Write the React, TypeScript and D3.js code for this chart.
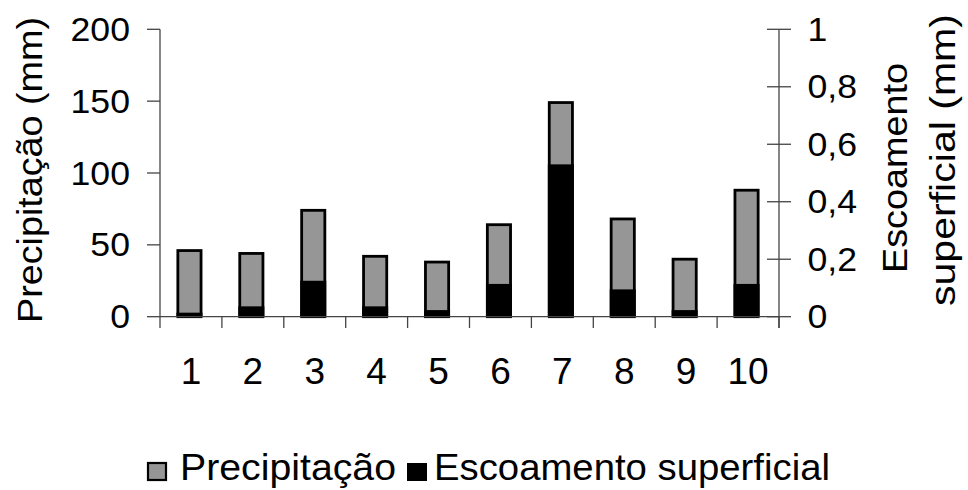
import React from "react";
import * as d3 from "d3";

const categories = ["1", "2", "3", "4", "5", "6", "7", "8", "9", "10"];
const precipitation = [47, 45, 75, 43, 39, 65, 150, 69, 41, 89];
const runoff = [0.014, 0.036, 0.125, 0.036, 0.023, 0.114, 0.53, 0.095, 0.023, 0.114];
const leftTicks = [0, 50, 100, 150, 200];
const rightTicks = [0, 0.2, 0.4, 0.6, 0.8, 1];
const seriesNames = ["Precipitação", "Escoamento superficial"];
const leftTitle = "Precipitação (mm)";
const rightTitle = ["Escoamento", "superficial (mm)"];

const W = 968;
const H = 490;
const FONT = "'Liberation Sans', Arial, Helvetica, sans-serif";
const GRAY = "#969696";
const AXIS = "#444";

function T(props: {
  x: number;
  y: number;
  size: number;
  sx?: number;
  rot?: number;
  anchor?: string;
  children: React.ReactNode;
  textLength?: number;
}) {
  const { x, y, size, sx = 1, rot = 0, anchor = "start", children, textLength } = props;
  return (
    <text
      transform={`translate(${x},${y}) rotate(${rot}) scale(${sx},1)`}
      fontSize={size}
      fontFamily={FONT}
      textAnchor={anchor}
      fill="#000"
      textLength={textLength}
      lengthAdjust={textLength ? "spacingAndGlyphs" : undefined}
    >
      {children}
    </text>
  );
}

export default function App() {
  const left = 160;
  const right = 779;
  const top = 29.3;
  const base = 316.7;

  const x = d3
    .scaleBand<string>()
    .domain(categories)
    .range([left, right])
    .paddingInner(0.58)
    .paddingOuter(0.29);
  const yL = d3.scaleLinear().domain([0, 200]).range([base, top]);
  const yR = d3.scaleLinear().domain([0, 1]).range([base, top]);
  const step = x.step();
  const bw = x.bandwidth();
  const sw = 2.8;
  const fmtR = (v: number) => String(v).replace(".", ",");

  const boundaries = d3.range(categories.length + 1).map((i) => left + i * step);

  return (
    <svg
      width={W}
      height={H}
      viewBox={`0 0 ${W} ${H}`}
      style={{ position: "absolute", left: 0, top: 0, display: "block", background: "#fff" }}
    >
      <rect x={0} y={0} width={W} height={H} fill="#fff" />

      {/* bars */}
      {categories.map((c, i) => {
        const bx = x(c)! - 1.5;
        const yt = yL(precipitation[i]);
        return (
          <rect
            key={"p" + c}
            x={bx + sw / 2}
            y={yt + sw / 2}
            width={bw - sw}
            height={base - yt - sw / 2}
            fill={GRAY}
            stroke="#000"
            strokeWidth={sw}
          />
        );
      })}
      {categories.map((c, i) => {
        const bx = x(c)! - 1.5;
        const yt = yR(runoff[i]);
        return (
          <rect key={"r" + c} x={bx} y={yt} width={bw} height={base - yt} fill="#000" />
        );
      })}

      {/* left axis */}
      <line x1={left} x2={left} y1={top} y2={base} stroke={AXIS} strokeWidth={1.3} />
      {leftTicks.map((t) => (
        <g key={"lt" + t}>
          <line x1={147} x2={left} y1={yL(t)} y2={yL(t)} stroke={AXIS} strokeWidth={1.3} />
          <T x={130} y={yL(t) + 11.5} size={33} sx={1.08} anchor="end">
            {t}
          </T>
        </g>
      ))}

      {/* x axis */}
      <line x1={left} x2={right} y1={base} y2={base} stroke={AXIS} strokeWidth={1.3} />
      {boundaries.map((bx, i) => (
        <line key={"xt" + i} x1={bx} x2={bx} y1={base} y2={328} stroke={AXIS} strokeWidth={1.3} />
      ))}
      {categories.map((c) => (
        <T key={"xl" + c} x={x(c)! + bw / 2} y={384} size={37} anchor="middle">
          {c}
        </T>
      ))}

      {/* right axis */}
      <line x1={right} x2={right} y1={top} y2={328} stroke={AXIS} strokeWidth={1.3} />
      {rightTicks.map((t) => (
        <g key={"rt" + t}>
          <line x1={767} x2={791} y1={yR(t)} y2={yR(t)} stroke={AXIS} strokeWidth={1.3} />
          <T x={807.5} y={yR(t) + 11.5} size={33} sx={1.08}>
            {fmtR(t)}
          </T>
        </g>
      ))}

      {/* axis titles */}
      <T x={42} y={170} size={35} rot={-90} anchor="middle" textLength={306}>
        {leftTitle}
      </T>
      <T x={907} y={168} size={35} rot={-90} anchor="middle" textLength={210}>
        {rightTitle[0]}
      </T>
      <T x={955} y={160} size={35} rot={-90} anchor="middle" textLength={292}>
        {rightTitle[1]}
      </T>

      {/* legend */}
      <rect x={148} y={463} width={18} height={17} fill={GRAY} stroke="#000" strokeWidth={2.2} />
      <T x={180} y={480} size={37} textLength={216}>
        {seriesNames[0]}
      </T>
      <rect x={407} y={463} width={20} height={18} fill="#000" />
      <T x={434} y={480} size={37} textLength={396}>
        {seriesNames[1]}
      </T>
    </svg>
  );
}
